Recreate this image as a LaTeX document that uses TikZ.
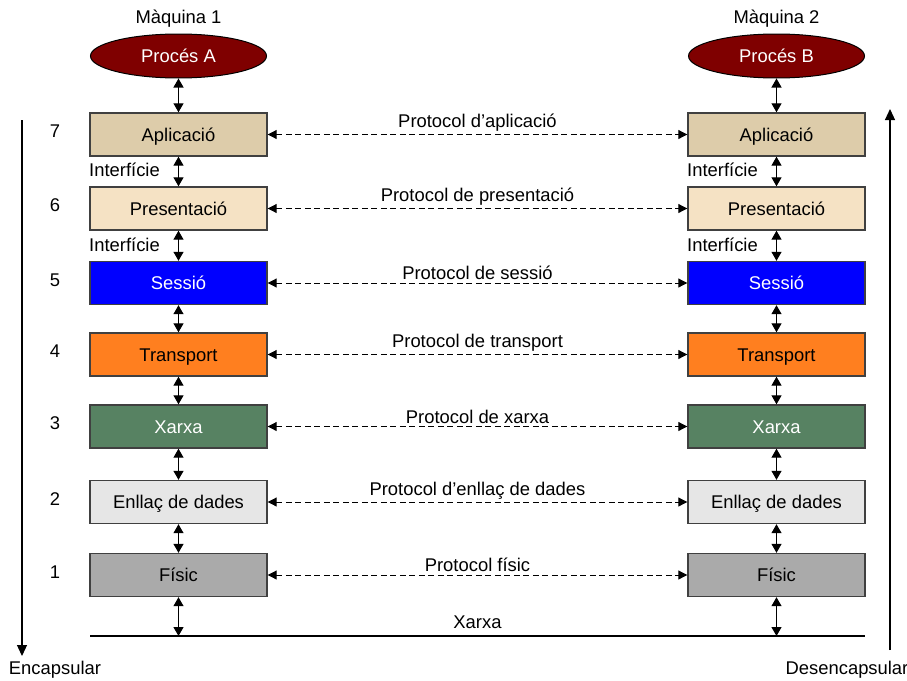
\documentclass[tikz,border=0pt]{standalone}
\usepackage{fontspec}
\setmainfont{Liberation Sans}
\usetikzlibrary{arrows.meta,shapes.geometric}

\definecolor{procred}{HTML}{7F0000}
\definecolor{capapp}{HTML}{DDCCAA}
\definecolor{cappres}{HTML}{F5E2C4}
\definecolor{capsess}{HTML}{0000FF}
\definecolor{captrans}{HTML}{FF7F1F}
\definecolor{capxarxa}{HTML}{578262}
\definecolor{capenll}{HTML}{E6E6E6}
\definecolor{capfis}{HTML}{AAAAAA}
\definecolor{edge}{HTML}{404040}

\begin{document}
\begin{tikzpicture}[x=1pt,y=-1pt,
  txt/.style={font=\fontsize{18.4}{21}\selectfont},
  capa/.style={txt, draw=edge, line width=1.4pt, minimum width=177pt,
    minimum height=43pt, inner sep=0pt, fill=#1, text height=14pt, text depth=1pt},
  proc/.style={txt, ellipse, draw=black, line width=1pt, fill=procred,
    text=white, minimum width=176pt, minimum height=44pt, inner sep=0pt,
    text height=14pt, text depth=1pt},
  num/.style={txt},
  vlink/.style={line width=1.2pt, {Triangle[width=10pt,length=9pt]}-{Triangle[width=10pt,length=9pt]}},
  proto/.style={line width=1pt, dash pattern=on 6pt off 3.5pt,
    {Triangle[width=9pt,length=9pt]}-{Triangle[width=9pt,length=9pt]}},
  bigarrow/.style={line width=1.2pt, -{Triangle[width=10pt,length=11pt]}}
]
\useasboundingbox (0,0) rectangle (907,680);

% machine titles and processes
\node[txt] (m1) at (178.5,19) {Màquina 1};
\node[txt] (m2) at (776.5,19) {Màquina 2};
\node[proc] (pa) at (178.5,56) {Procés A};
\node[proc] (pb) at (776.5,56) {Procés B};

% layer stacks
\foreach \n/\y/\c/\t/\tc in {
    7/134.5/capapp/Aplicació/black,
    6/208.5/cappres/Presentació/black,
    5/283/capsess/Sessió/white,
    4/354.5/captrans/Transport/black,
    3/426.5/capxarxa/Xarxa/white,
    2/502/capenll/Enllaç de dades/black,
    1/575/capfis/Físic/black} {
  \node[capa=\c, text=\tc] (a\n) at (178.5,\y) {\t};
  \node[capa=\c, text=\tc] (b\n) at (776.5,\y) {\t};
  \node[num] (n\n) at (55,\y-3) {\n};
}

% links between process and layers
\draw[vlink] (pa.south) -- (a7.north);
\draw[vlink] (pb.south) -- (b7.north);
\foreach \u/\d in {7/6,6/5,5/4,4/3,3/2,2/1} {
  \draw[vlink] (a\u.south) -- (a\d.north);
  \draw[vlink] (b\u.south) -- (b\d.north);
}

% interface labels
\node[txt, anchor=west, inner sep=0pt] (ia1) at (89,170) {Interfície};
\node[txt, anchor=west, inner sep=0pt] (ia2) at (89,245) {Interfície};
\node[txt, anchor=west, inner sep=0pt] (ib1) at (687,170) {Interfície};
\node[txt, anchor=west, inner sep=0pt] (ib2) at (687,245) {Interfície};

% peer protocols
\foreach \n/\t in {
    7/Protocol d’aplicació,
    6/Protocol de presentació,
    5/Protocol de sessió,
    4/Protocol de transport,
    3/Protocol de xarxa,
    2/Protocol d’enllaç de dades,
    1/Protocol físic} {
  \draw[proto] (a\n.east) -- node[txt, above, inner sep=2.5pt] {\t} (b\n.west);
}

% physical medium
\coordinate (wa) at (90,636);
\coordinate (wb) at (865,636);
\coordinate (ta) at (178.5,636);
\coordinate (tb) at (776.5,636);
\draw[line width=1.2pt] (wa) -- node[txt, above, inner sep=7pt] {Xarxa} (wb);
\draw[vlink] (a1.south) -- (ta);
\draw[vlink] (b1.south) -- (tb);

% encapsulation direction arrows
\coordinate (e1) at (22,120);
\coordinate (e2) at (22,656);
\coordinate (d1) at (890,650);
\coordinate (d2) at (890,109);
\draw[bigarrow] (e1) -- (e2);
\draw[bigarrow] (d1) -- (d2);
\node[txt] (enc) at (55,670) {Encapsular};
\node[txt] (dec) at (847,670) {Desencapsular};
\end{tikzpicture}
\end{document}
